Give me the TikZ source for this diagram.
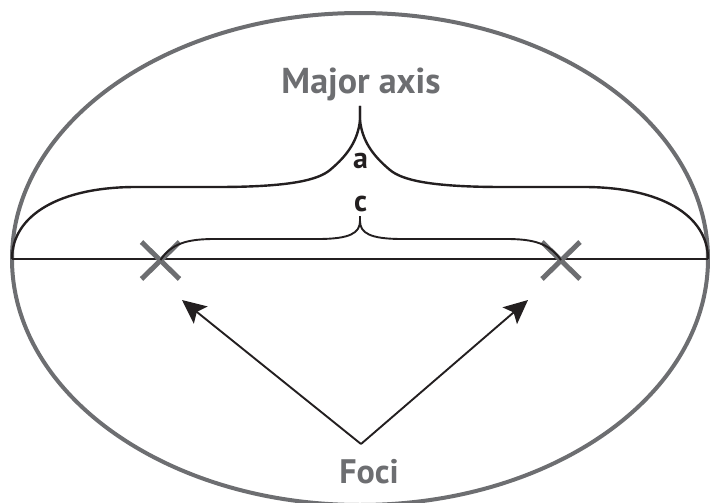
\documentclass[tikz,border=0pt]{standalone}
\usepackage{fontspec}
\setmainfont{PT Sans}
\usetikzlibrary{arrows.meta}
\definecolor{axgray}{HTML}{6D6E71}
\definecolor{ink}{HTML}{231F20}
\tikzset{
  rim/.style={draw=axgray, line width=4pt},
  bracestroke/.style={draw=ink, line width=2.4pt},
  smallbrace/.style={draw=ink, line width=1.9pt},
  focusmark/.style={draw=axgray, line width=5pt},
  pointer/.style={draw=ink, line width=1.9pt, -{Stealth[length=24pt,width=22pt,inset=5pt]}},
  graylabel/.style={text=axgray, font=\bfseries\fontsize{36}{38}\selectfont, inner sep=0pt},
  focilabel/.style={text=axgray, font=\bfseries\fontsize{34}{36}\selectfont, inner sep=0pt},
  blacklabel/.style={text=ink, font=\bfseries\fontsize{30}{32}\selectfont, inner sep=0pt},
}
\begin{document}
\begin{tikzpicture}[x=1pt,y=-1pt]
\useasboundingbox (0,0) rectangle (710,503);
% ellipse
\draw[rim] (360,259) ellipse [x radius=348, y radius=246];
% major axis
\coordinate (L) at (12,259);
\coordinate (R) at (708,259);
\draw[draw=ink, line width=2pt] (L) -- (R);
% foci
\coordinate (F1) at (160.5,260);
\coordinate (F2) at (561,260);
\draw[focusmark] ([shift={(-19,-18)}]F1) -- ([shift={(19,19)}]F1);
\draw[focusmark] ([shift={(19,-18)}]F1) -- ([shift={(-19,19)}]F1);
\draw[focusmark] ([shift={(-19,-18)}]F2) -- ([shift={(19,19)}]F2);
\draw[focusmark] ([shift={(19,-18)}]F2) -- ([shift={(-19,19)}]F2);
% big brace
\coordinate (Atip) at (360,106);
\draw[bracestroke] (L) .. controls (12,215) and (60,187) .. (136,187) -- (217,187)
  .. controls (290,187) and (318,180) .. (330,170)
  .. controls (348,155) and (358,140) .. (360,120) -- (Atip);
\draw[bracestroke] (R) .. controls (708,215) and (660,187) .. (584,187) -- (503,187)
  .. controls (430,187) and (402,180) .. (390,170)
  .. controls (372,155) and (362,140) .. (360,120) -- (Atip);
% small brace
\coordinate (Ctip) at (360,216);
\draw[smallbrace] (F1) .. controls (172,243) and (188,239) .. (215,239) -- (318,239)
  .. controls (350,239) and (360,233) .. (360,221) -- (Ctip);
\draw[smallbrace] (F2) .. controls (549,243) and (533,239) .. (506,239) -- (402,239)
  .. controls (370,239) and (360,233) .. (360,221) -- (Ctip);
% labels
\node[graylabel, anchor=base] (major) at (361,93) {Major axis};
\node[blacklabel, anchor=base] (alab) at (360.5,168) {a};
\node[blacklabel, anchor=base] (clab) at (360.5,211) {c};
\node[focilabel, anchor=base] (foci) at (369,483) {Foci};
% arrows
\coordinate (apex) at (361,444);
\coordinate (P1) at (182,300);
\coordinate (P2) at (528,300);
\draw[pointer] (apex) -- (P1);
\draw[pointer] (apex) -- (P2);
\end{tikzpicture}
\end{document}
